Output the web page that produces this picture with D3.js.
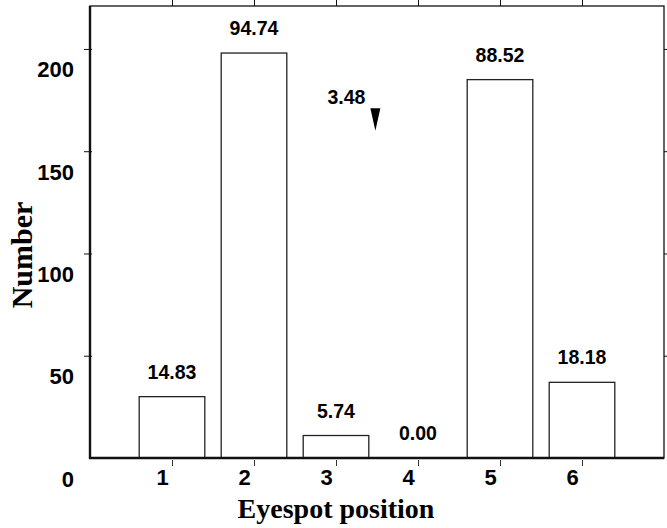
<!DOCTYPE html>
<html>
<head>
<meta charset="utf-8">
<script src="https://cdn.jsdelivr.net/npm/d3@7"></script>
<style>
  body { margin: 0; background: #fff; }
  svg { display: block; }
</style>
</head>
<body>
<script>
// eyespot positions and counts
const positions = [1, 2, 3, 4, 5, 6]
const counts = [30, 198, 11, 0, 185, 37]
const percentLabels = ["14.83", "94.74", "5.74", "0.00", "88.52", "18.18"]
const yTicks = [0, 50, 100, 150, 200]
// mean eyespot position marker
const meanPosition = 3.48
const meanLabel = "3.48"
const markerTop = 171
const markerTip = 160

var width = 667
var height = 528

const sansFont = "'Liberation Sans', Arial, sans-serif"
const serifFont = "'Liberation Serif', 'Times New Roman', serif"

const svg = d3.select("body")
    .append("svg")
    .attr("width", width)
    .attr("height", height)

const margin = { top: 6, right: 3, bottom: 70, left: 90 }
const plotRight = width - margin.right
const plotBottom = height - margin.bottom

const xScale = d3.scaleLinear()
    .domain([0, 7])
    .range([margin.left, plotRight])

const yScale = d3.scaleLinear()
    .domain([0, 221])
    .range([plotBottom, margin.top])

//frame
svg.append("rect")
    .attr("x", margin.left)
    .attr("y", margin.top)
    .attr("width", plotRight - margin.left)
    .attr("height", plotBottom - margin.top)
    .attr("fill", "none")
    .attr("stroke", "#111")
    .attr("stroke-width", 1.3)

//bars
const barW = xScale(0.8) - xScale(0)
svg.append("g").selectAll("rect")
    .data(positions)
    .enter()
    .append("rect")
    .attr("x", (d, i) => xScale(d) - barW / 2)
    .attr("y", (d, i) => yScale(counts[i]))
    .attr("width", barW)
    .attr("height", (d, i) => yScale(0) - yScale(counts[i]))
    .attr("fill", "#fff")
    .attr("stroke", "#222")
    .attr("stroke-width", 1.3)

//thick left and bottom axis lines
svg.append("line")
    .attr("x1", margin.left).attr("x2", margin.left)
    .attr("y1", margin.top).attr("y2", plotBottom + 1)
    .attr("stroke", "#111").attr("stroke-width", 2.4)
svg.append("line")
    .attr("x1", margin.left - 1).attr("x2", plotRight)
    .attr("y1", plotBottom).attr("y2", plotBottom)
    .attr("stroke", "#111").attr("stroke-width", 2.4)

//bottom axis
const xAxis = svg.append("g")
    .attr("transform", "translate(0," + (plotBottom + 2) + ")")
    .call(d3.axisBottom(xScale).tickValues(positions).tickSize(6).tickPadding(3).tickFormat(d3.format("d")))
xAxis.select(".domain").remove()
xAxis.selectAll("line").attr("stroke", "#333").attr("stroke-width", 1)
xAxis.selectAll("text")
    .attr("dx", -10)
    .attr("font-family", sansFont)
    .attr("font-weight", "bold")
    .attr("font-size", "22px")
    .attr("fill", "#000")

//top ticks
const topAxis = svg.append("g")
    .attr("transform", "translate(0," + margin.top + ")")
    .call(d3.axisTop(xScale).tickValues(positions).tickSize(6).tickFormat(""))
topAxis.select(".domain").remove()
topAxis.selectAll("line").attr("stroke", "#111")

//left axis
const yAxis = svg.append("g")
    .attr("transform", "translate(" + (margin.left + 2) + ",0)")
    .call(d3.axisLeft(yScale).tickValues(yTicks).tickSize(8).tickPadding(10))
yAxis.select(".domain").remove()
yAxis.selectAll("line").attr("stroke", "#111")
yAxis.selectAll(".tick").filter(d => d === 0).select("line").remove()
yAxis.selectAll("text")
    .attr("transform", "translate(0,21)")
    .attr("font-family", sansFont)
    .attr("font-weight", "bold")
    .attr("font-size", "22px")
    .attr("fill", "#000")

//right ticks
const rightAxis = svg.append("g")
    .attr("transform", "translate(" + plotRight + ",0)")
    .call(d3.axisRight(yScale).tickValues(yTicks.slice(1)).tickSize(4).tickFormat(""))
rightAxis.select(".domain").remove()
rightAxis.selectAll("line").attr("stroke", "#111")

//value labels
svg.append("g").selectAll("text")
    .data(positions)
    .enter()
    .append("text")
    .text((d, i) => percentLabels[i])
    .attr("x", d => xScale(d))
    .attr("y", (d, i) => yScale(counts[i]) - 18)
    .attr("text-anchor", "middle")
    .attr("font-family", sansFont)
    .attr("font-weight", "bold")
    .attr("font-size", "19.5px")
    .attr("fill", "#000")

//mean marker
const mx = xScale(meanPosition)
svg.append("path")
    .attr("d", "M" + (mx - 5) + "," + yScale(markerTop) + "L" + (mx + 5) + "," + yScale(markerTop) + "L" + mx + "," + yScale(markerTip) + "Z")
    .attr("fill", "#000")
svg.append("text")
    .text(meanLabel)
    .attr("x", mx - 10)
    .attr("y", yScale(markerTop) - 4)
    .attr("text-anchor", "end")
    .attr("font-family", sansFont)
    .attr("font-weight", "bold")
    .attr("font-size", "19.5px")
    .attr("fill", "#000")

//axis titles
svg.append("text")
    .text("Eyespot position")
    .attr("x", xScale(3))
    .attr("y", 518)
    .attr("text-anchor", "middle")
    .attr("font-family", serifFont)
    .attr("font-weight", "bold")
    .attr("font-size", "28px")
    .attr("fill", "#000")

svg.append("text")
    .text("Number")
    .attr("transform", "translate(32,255) rotate(-90)")
    .attr("text-anchor", "middle")
    .attr("font-family", serifFont)
    .attr("font-weight", "bold")
    .attr("font-size", "30px")
    .attr("fill", "#000")
</script>
</body>
</html>
